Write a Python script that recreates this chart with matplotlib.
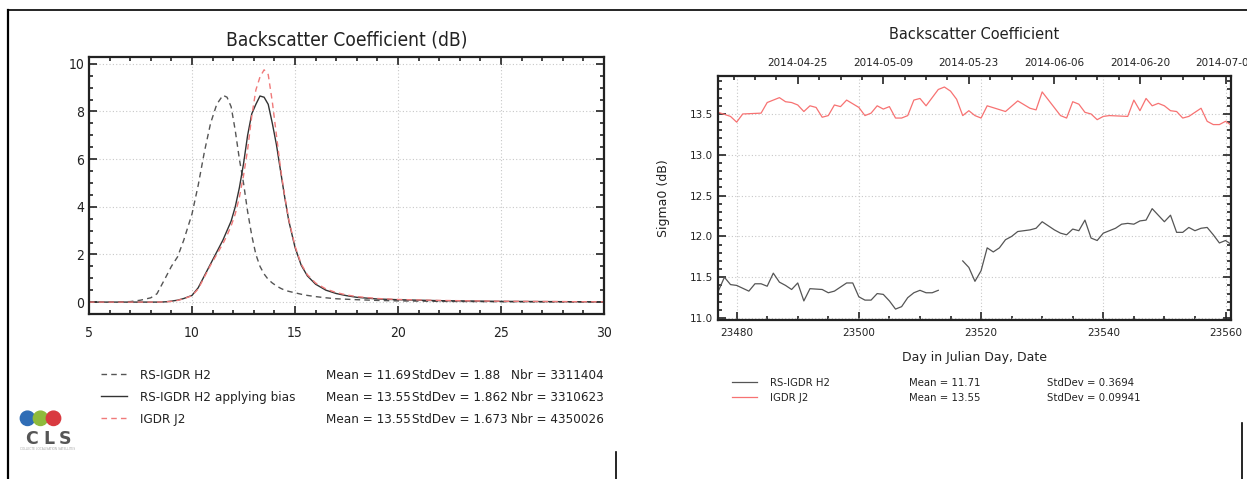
import matplotlib
matplotlib.use('Agg')
import matplotlib.pyplot as plt
import numpy as np
import pandas as pd
from matplotlib.patches import Circle
from matplotlib.ticker import MultipleLocator, FixedLocator
from matplotlib import font_manager as fm

# ---- left panel: sigma0 distributions ----
x_pdf = [5.0, 6.0, 7.0, 7.5, 8.0, 8.3, 8.7, 9.0, 9.3, 9.6, 10.0, 10.3, 10.6, 10.9,
         11.2, 11.5, 11.7, 11.9, 12.1, 12.3, 12.5, 12.7, 12.9, 13.1, 13.3, 13.5,
         13.7, 13.9, 14.1, 14.3, 14.5, 14.7, 15.0, 15.3, 15.6, 16.0, 16.5, 17.0,
         17.5, 18.0, 19.0, 20.0, 22.0, 25.0, 30.0]
pdf_h2 = [0.0, 0.0, 0.02, 0.08, 0.18, 0.35, 1.0, 1.5, 1.9, 2.6, 3.7, 4.9, 6.3, 7.5,
          8.3, 8.68, 8.6, 8.2, 7.2, 6.0, 5.0, 3.8, 2.8, 2.0, 1.5, 1.18,
          0.95, 0.8, 0.68, 0.58, 0.5, 0.45, 0.39, 0.33, 0.28, 0.23, 0.18, 0.14,
          0.12, 0.1, 0.07, 0.05, 0.03, 0.015, 0.0]
pdf_h2_bias = [0.0, 0.0, 0.0, 0.0, 0.0, 0.0, 0.01, 0.04, 0.08, 0.15, 0.28, 0.6, 1.1, 1.6,
               2.1, 2.6, 3.0, 3.4, 4.0, 4.8, 5.8, 7.0, 7.9, 8.3, 8.65, 8.6,
               8.3, 7.5, 6.6, 5.5, 4.4, 3.4, 2.3, 1.55, 1.1, 0.75, 0.5, 0.36,
               0.27, 0.2, 0.13, 0.1, 0.06, 0.03, 0.01]
pdf_j2 = [0.0, 0.0, 0.0, 0.0, 0.0, 0.0, 0.01, 0.03, 0.07, 0.14, 0.27, 0.55, 1.05, 1.55,
          2.0, 2.45, 2.8, 3.2, 3.7, 4.4, 5.3, 6.4, 7.8, 8.9, 9.45, 9.75,
          9.55, 8.4, 7.0, 5.6, 4.45, 3.45, 2.35, 1.6, 1.15, 0.8, 0.55, 0.4,
          0.3, 0.23, 0.15, 0.11, 0.07, 0.035, 0.01]
left_names = ['RS-IGDR H2', 'RS-IGDR H2 applying bias', 'IGDR J2']
left_mean = ['Mean = 11.69', 'Mean = 13.55', 'Mean = 13.55']
left_std = ['StdDev = 1.88', 'StdDev = 1.862', 'StdDev = 1.673']
left_nbr = ['Nbr = 3311404', 'Nbr = 3310623', 'Nbr = 4350026']

# ---- right panel: daily sigma0 time series (CNES julian days) ----
h2_days = [23477, 23478, 23479, 23480, 23482, 23483, 23484, 23485, 23486, 23487,
           23488, 23489, 23490, 23491, 23492, 23494, 23495, 23496, 23497, 23498,
           23499, 23500, 23501, 23502, 23503, 23504, 23505, 23506, 23507, 23508,
           23509, 23510, 23511, 23512, 23513, 23515] + list(range(23517, 23562))
h2_sig = [11.33, 11.50, 11.41, 11.40, 11.33, 11.42, 11.42, 11.39, 11.55, 11.44,
          11.40, 11.35, 11.43, 11.21, 11.36, 11.35, 11.31, 11.33, 11.38, 11.43,
          11.43, 11.26, 11.22, 11.22, 11.30, 11.29, 11.21, 11.11, 11.14, 11.25,
          11.31, 11.34, 11.31, 11.31, 11.34, np.nan,
          11.70, 11.62, 11.45, 11.58, 11.86, 11.81, 11.86, 11.96, 12.00, 12.06,
          12.07, 12.08, 12.10, 12.18, 12.13, 12.08, 12.04, 12.02, 12.09, 12.07,
          12.20, 11.98, 11.95, 12.04, 12.07, 12.10, 12.15, 12.16, 12.15, 12.19,
          12.20, 12.34, 12.26, 12.18, 12.26, 12.05, 12.05, 12.11, 12.07, 12.10,
          12.11, 12.02, 11.92, 11.95, 11.90]
j2_days = [23477, 23479, 23480, 23481, 23484, 23485, 23487, 23488, 23489, 23490,
           23491, 23492, 23493, 23494, 23495, 23496, 23497, 23498, 23500, 23501,
           23502, 23503, 23504, 23505, 23506, 23507, 23508, 23509, 23510, 23511,
           23513, 23514, 23515, 23516, 23517, 23518, 23519, 23520, 23521, 23524,
           23526, 23528, 23529, 23530, 23533, 23534, 23535, 23536, 23537, 23538,
           23539, 23540, 23541, 23544, 23545, 23546, 23547, 23548, 23549, 23550,
           23551, 23552, 23553, 23554, 23556, 23557, 23558, 23559, 23560, 23561]
j2_sig = [13.52, 13.47, 13.40, 13.50, 13.51, 13.64, 13.70, 13.65, 13.64, 13.61,
          13.53, 13.60, 13.58, 13.46, 13.48, 13.61, 13.59, 13.67, 13.58, 13.48,
          13.51, 13.60, 13.56, 13.59, 13.45, 13.45, 13.48, 13.67, 13.69, 13.60,
          13.80, 13.83, 13.78, 13.68, 13.48, 13.54, 13.48, 13.45, 13.60, 13.53,
          13.66, 13.57, 13.55, 13.77, 13.48, 13.45, 13.65, 13.62, 13.52, 13.50,
          13.43, 13.47, 13.48, 13.47, 13.67, 13.54, 13.69, 13.60, 13.63, 13.60,
          13.54, 13.53, 13.45, 13.47, 13.57, 13.41, 13.37, 13.37, 13.41, 13.36]
date_labels = ['2014-04-25', '2014-05-09', '2014-05-23', '2014-06-06', '2014-06-20', '2014-07-04']
right_names = ['RS-IGDR H2', 'IGDR J2']
right_mean = ['Mean = 11.71', 'Mean = 13.55']
right_std = ['StdDev = 0.3694', 'StdDev = 0.09941']

# condensed DejaVu for the (horizontally squeezed) left panel, if present
cands = [f for f in fm.fontManager.ttflist
         if 'DejaVu Sans' in f.name and 'Mono' not in f.name
         and (f.stretch == 'condensed' or 'Condensed' in f.name)]
if cands:
    LF = dict(family=cands[0].name, fontstretch='condensed')
    k = 1.0
else:
    LF = dict(family='DejaVu Sans')
    k = 0.9
RF = dict(family='DejaVu Sans')

W, H = 1247, 479
fig = plt.figure(figsize=(W / 100, H / 100), dpi=100, facecolor='white')


def box(x0, y0, x1, y1):
    return [x0 / W, 1 - y1 / H, (x1 - x0) / W, (y1 - y0) / H]


TXT = '#222222'
GRID = dict(ls=(0, (1, 2)), color='#c8c8c8', lw=0.8)

# overlay in pixel coordinates for frame lines, legends and logo
ov = fig.add_axes([0, 0, 1, 1], zorder=-1)
ov.set_xlim(0, W)
ov.set_ylim(H, 0)
ov.axis('off')
ov.plot([8, W], [9.5, 9.5], color='k', lw=1.2)
ov.plot([8, 8], [9.5, H], color='k', lw=1.6)
ov.plot([616, 616], [452, H], color='k', lw=1.2)
ov.plot([1242, 1242], [423, H], color='k', lw=1.2)

# ---------------- left chart ----------------
ax1 = fig.add_axes(box(89, 56.7, 604, 314))
st_h2 = dict(ls=(0, (4, 3)), color='#555555', lw=1.0)
st_bias = dict(ls='-', color='#333333', lw=1.0)
st_j2 = dict(ls=(0, (4, 3)), color='#f07a7a', lw=1.0)
ax1.plot(x_pdf, pdf_h2, **st_h2)
ax1.plot(x_pdf, pdf_h2_bias, **st_bias)
ax1.plot(x_pdf, pdf_j2, **st_j2)
ax1.set_xlim(5, 30)
ax1.set_ylim(-0.5, 10.3)
xt = [5, 10, 15, 20, 25, 30]
yt = [0, 2, 4, 6, 8, 10]
ax1.set_xticks(xt, labels=[str(v) for v in xt], fontsize=10 * k, color=TXT, **LF)
ax1.set_yticks(yt, labels=[str(v) for v in yt], fontsize=10 * k, color=TXT, **LF)
ax1.xaxis.set_minor_locator(MultipleLocator(1))
ax1.yaxis.set_minor_locator(MultipleLocator(0.5))
ax1.tick_params(which='both', direction='in', top=True, right=True, color='#222222', width=1.2)
ax1.tick_params(which='major', length=5.8)
ax1.tick_params(which='minor', length=2.9)
ax1.tick_params(axis='x', pad=8.5)
ax1.tick_params(axis='y', pad=3.5)
ax1.grid(True, which='major', **GRID)
for s in ax1.spines.values():
    s.set_linewidth(1.6)
    s.set_color('#222222')
ov.text(346.5, 39.5, 'Backscatter Coefficient (dB)', ha='center', va='center',
        fontsize=13.8 * k, color=TXT, **LF)


def row_text(x, y, s, size, font):
    cap = 0.729 * size * 100 / 72
    ov.text(x, y + cap / 2, s, ha='left', va='baseline', fontsize=size, color=TXT, **font)


left_rows = [374, 395.7, 418.3]
for yr, st, nm, mn, sd, nb in zip(left_rows, [st_h2, st_bias, st_j2],
                                  left_names, left_mean, left_std, left_nbr):
    ov.plot([101, 127], [yr, yr], **st)
    row_text(140, yr, nm, 9.6 * k, LF)
    row_text(326, yr, mn, 9.6 * k, LF)
    row_text(412, yr, sd, 9.6 * k, LF)
    row_text(511, yr, nb, 9.6 * k, LF)

# CLS logo
for cx, col in zip([27.5, 40.5, 53.5], ['#2f6db6', '#8fba3c', '#d93a40']):
    ov.add_patch(Circle((cx, 418.3), 7.2, color=col, zorder=3))
for cx, ch in zip([32, 48.5, 64.5], 'CLS'):
    ov.text(cx, 444, ch, ha='center', va='baseline', fontsize=12.5, weight='bold',
            color='#555555', family='DejaVu Sans')
ov.text(48, 448.5, 'COLLECTE LOCALISATION SATELLITES', ha='center', va='center',
        fontsize=2.2, color='#aaaaaa')

# ---------------- right chart ----------------
ax2 = fig.add_axes(box(718.3, 76, 1231, 319.7))
ax2.plot(h2_days, h2_sig, color='#555555', lw=0.9)
ax2.plot(j2_days, j2_sig, color='#f77272', lw=0.9)
ax2.set_xlim(23477, 23560.9)
ax2.set_ylim(10.98, 13.965)
ax2.xaxis.set_major_locator(MultipleLocator(20))
ax2.xaxis.set_minor_locator(MultipleLocator(5))
ax2.yaxis.set_major_locator(MultipleLocator(0.5))
ax2.yaxis.set_minor_locator(MultipleLocator(0.1))
ax2.yaxis.set_major_formatter(matplotlib.ticker.FormatStrFormatter('%.1f'))
ax2.tick_params(which='both', direction='in', right=True, top=False, color='#222222', width=1.2)
ax2.tick_params(which='major', length=5.6)
ax2.tick_params(which='minor', length=2.7)
ax2.tick_params(axis='x', pad=6.2, labelsize=7.5, labelcolor=TXT)
ax2.tick_params(axis='y', pad=3.6, labelsize=7.5, labelcolor=TXT)
ax2.grid(True, which='major', **GRID)
for s in ax2.spines.values():
    s.set_linewidth(1.6)
    s.set_color('#222222')

date_days = [(pd.Timestamp(d) - pd.Timestamp('1950-01-01')).days for d in date_labels]
axt = ax2.twiny()
axt.set_xlim(ax2.get_xlim())
axt.set_xticks(date_days, labels=date_labels, fontsize=7.5, color=TXT)
axt.xaxis.set_minor_locator(FixedLocator(np.arange(date_days[0] - 14, date_days[-1] + 14, 3.5)))
axt.tick_params(which='both', direction='in', color='#222222', width=1.2, pad=5.5)
axt.tick_params(which='major', length=5.6)
axt.tick_params(which='minor', length=2.7)
for s in axt.spines.values():
    s.set_visible(False)

ov.text(974.5, 34, 'Backscatter Coefficient', ha='center', va='center', fontsize=10.5, color=TXT, **RF)
ov.text(974.5, 357, 'Day in Julian Day, Date', ha='center', va='center', fontsize=9, color=TXT, **RF)
ov.text(663, 198, 'Sigma0 (dB)', ha='center', va='center', rotation=90, fontsize=9, color=TXT, **RF)

right_rows = [382, 397.3]
for yr, col, nm, mn, sd in zip(right_rows, ['#555555', '#f77272'], right_names, right_mean, right_std):
    ov.plot([731.5, 756.7], [yr, yr], color=col, lw=0.9)
    row_text(770, yr, nm, 7.3, RF)
    row_text(909, yr, mn, 7.3, RF)
    row_text(1047, yr, sd, 7.3, RF)

fig.savefig('out.png', dpi=100, facecolor='white')
